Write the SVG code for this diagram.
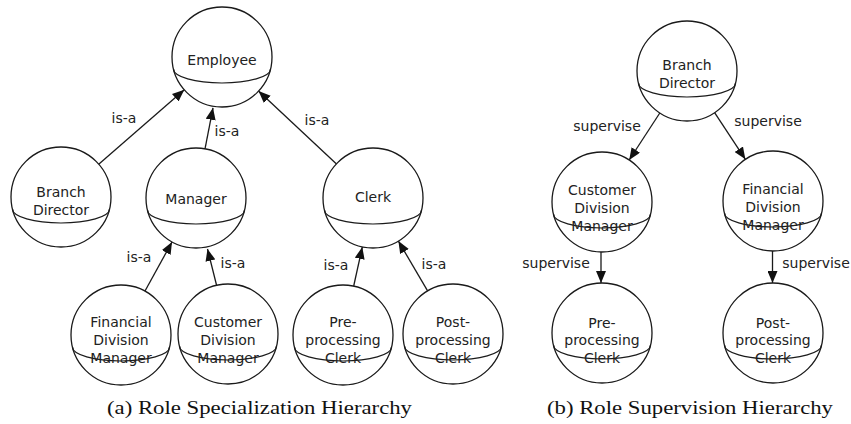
<svg xmlns="http://www.w3.org/2000/svg" width="851" height="424" viewBox="0 0 851 424">
<style>
  .bg{fill:#ffffff}
  .node circle{fill:#ffffff;stroke:#1a1a1a;stroke-width:1.3}
  .node use{fill:none;stroke:#1a1a1a;stroke-width:1.2}
  .node text{font-family:"DejaVu Sans",Verdana,sans-serif;font-size:14px;fill:#222;text-anchor:middle}
  .edges line{stroke:#1a1a1a;stroke-width:1.3;marker-end:url(#arrow)}
  .elabel{font-family:"DejaVu Sans",Verdana,sans-serif;font-size:14px;fill:#222;text-anchor:middle}
  .caption{font-family:"Liberation Serif","Times New Roman",serif;font-size:19px;fill:#111;text-anchor:middle}
</style>
<defs>
  <marker id="arrow" markerUnits="userSpaceOnUse" markerWidth="13" markerHeight="10" refX="12" refY="5" orient="auto">
    <path d="M0,0 L12,5 L0,10 z" fill="#111"/>
  </marker>
  <path id="eq" d="M-48.5,12 A48.5 14 0 0 0 48.5,12" fill="none" stroke="#1a1a1a" stroke-width="1.2"/>
</defs>
<rect class="bg" x="0" y="0" width="851" height="424"/>

<g class="edges" id="connectors">
  <!-- (a) is-a -->
  <line x1="98.7" y1="164.2" x2="184.3" y2="89.8"/>
  <line x1="205" y1="148.8" x2="213" y2="107.8"/>
  <line x1="336.5" y1="163.9" x2="258.5" y2="91.1"/>
  <line x1="145" y1="291" x2="172" y2="242"/>
  <line x1="216.5" y1="285" x2="207.5" y2="249"/>
  <line x1="353.7" y1="286" x2="362.3" y2="247"/>
  <line x1="427.6" y1="290.9" x2="398.4" y2="241.1"/>
  <!-- (b) supervise -->
  <line x1="659.8" y1="113" x2="629.2" y2="160"/>
  <line x1="714.6" y1="112.7" x2="745.4" y2="159.3"/>
  <line x1="601" y1="252" x2="601" y2="283"/>
  <line x1="772.5" y1="251" x2="772.5" y2="283"/>
  <text class="elabel" x="124" y="123">is-a</text>
  <text class="elabel" x="227" y="136">is-a</text>
  <text class="elabel" x="317" y="125">is-a</text>
  <text class="elabel" x="139" y="262">is-a</text>
  <text class="elabel" x="233" y="268">is-a</text>
  <text class="elabel" x="336" y="270">is-a</text>
  <text class="elabel" x="434" y="269">is-a</text>
  <text class="elabel" x="607" y="131">supervise</text>
  <text class="elabel" x="768" y="126">supervise</text>
  <text class="elabel" x="556" y="268">supervise</text>
  <text class="elabel" x="816" y="268">supervise</text>
</g>

<!-- (a) Role Specialization Hierarchy -->
<g class="node" id="a-employee" transform="translate(222,57)">
  <circle r="50"/><use href="#eq"/>
  <text y="8">Employee</text>
</g>
<g class="node" id="a-branch-director" transform="translate(61,197)">
  <circle r="50"/><use href="#eq"/>
  <text y="0">Branch</text><text y="18">Director</text>
</g>
<g class="node" id="a-manager" transform="translate(196,198)">
  <circle r="50"/><use href="#eq"/>
  <text y="6">Manager</text>
</g>
<g class="node" id="a-clerk" transform="translate(373,198)">
  <circle r="50"/><use href="#eq"/>
  <text y="4">Clerk</text>
</g>
<g class="node" id="a-financial-division-manager" transform="translate(121,335)">
  <circle r="50"/><use href="#eq"/>
  <text y="-8">Financial</text><text y="10">Division</text><text y="28">Manager</text>
</g>
<g class="node" id="a-customer-division-manager" transform="translate(228,334)">
  <circle r="50"/><use href="#eq"/>
  <text y="-7">Customer</text><text y="11">Division</text><text y="29">Manager</text>
</g>
<g class="node" id="a-pre-processing-clerk" transform="translate(343,335)">
  <circle r="50"/><use href="#eq"/>
  <text y="-8">Pre-</text><text y="10">processing</text><text y="28">Clerk</text>
</g>
<g class="node" id="a-post-processing-clerk" transform="translate(453,334)">
  <circle r="50"/><use href="#eq"/>
  <text y="-7">Post-</text><text y="11">processing</text><text y="29">Clerk</text>
</g>

<!-- (b) Role Supervision Hierarchy -->
<g class="node" id="b-branch-director" transform="translate(687,71)">
  <circle r="50"/><use href="#eq"/>
  <text y="-1">Branch</text><text y="17">Director</text>
</g>
<g class="node" id="b-customer-division-manager" transform="translate(602,202)">
  <circle r="50"/><use href="#eq"/>
  <text y="-7">Customer</text><text y="11">Division</text><text y="29">Manager</text>
</g>
<g class="node" id="b-financial-division-manager" transform="translate(773,201)">
  <circle r="50"/><use href="#eq"/>
  <text y="-7">Financial</text><text y="11">Division</text><text y="29">Manager</text>
</g>
<g class="node" id="b-pre-processing-clerk" transform="translate(602,333)">
  <circle r="50"/><use href="#eq"/>
  <text y="-5">Pre-</text><text y="12">processing</text><text y="30">Clerk</text>
</g>
<g class="node" id="b-post-processing-clerk" transform="translate(773,333)">
  <circle r="50"/><use href="#eq"/>
  <text y="-5">Post-</text><text y="12">processing</text><text y="30">Clerk</text>
</g>

<text class="caption" x="259.5" y="414" textLength="305" lengthAdjust="spacingAndGlyphs">(a)  Role Specialization Hierarchy</text>
<text class="caption" x="690" y="414" textLength="286" lengthAdjust="spacingAndGlyphs">(b)  Role Supervision Hierarchy</text>
</svg>
